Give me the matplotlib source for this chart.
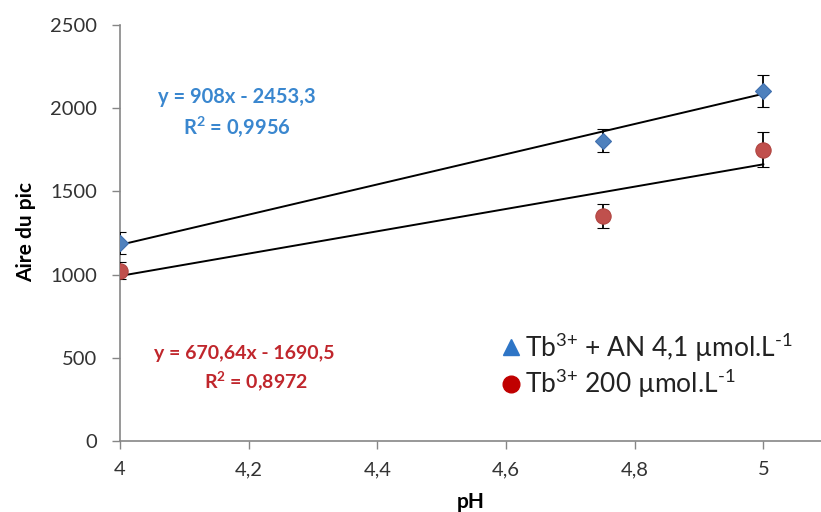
import matplotlib
matplotlib.use("Agg")
import matplotlib.pyplot as plt
import numpy as np
from matplotlib.lines import Line2D

plt.rcParams['font.family'] = ['Lato', 'DejaVu Sans']
plt.rcParams['mathtext.fontset'] = 'custom'
plt.rcParams['mathtext.rm'] = 'Lato'
plt.rcParams['mathtext.bf'] = 'Lato:bold'

# Data
ph = [4.0, 4.75, 5.0]
aire_an = [1190, 1805, 2105]
err_an = [66, 70, 97]
aire_tb = [1023, 1352, 1749]
err_tb = [50, 74, 105]

# Trendline coefficients (from the chart equations)
slope_an, intercept_an = 908.0, -2453.3
slope_tb, intercept_tb = 670.64, -1690.5

xticks = [4.0, 4.2, 4.4, 4.6, 4.8, 5.0]
xtick_labels = ["4", "4,2", "4,4", "4,6", "4,8", "5"]
yticks = [0, 500, 1000, 1500, 2000, 2500]

fig = plt.figure(figsize=(8.21, 5.12), dpi=100)
ax = fig.add_axes([120/821, 1-441/512, 772/821, 416/512])

axis_col = '#868686'
blue_pt = '#4f81bd'
red_pt = '#c0504d'

xl = np.array([min(ph), max(ph)])
ax.plot(xl, slope_an*xl + intercept_an, color='black', lw=1.4, zorder=2)
ax.plot(xl, slope_tb*xl + intercept_tb, color='black', lw=1.4, zorder=2)

ax.errorbar(ph, aire_an, yerr=err_an, fmt='D', color=blue_pt, ms=8.5,
            mec='#3f6fae', mew=0.8, ecolor='black', elinewidth=1.3, capsize=4.5,
            capthick=1.3, zorder=3)
ax.errorbar(ph, aire_tb, yerr=err_tb, fmt='o', color=red_pt, ms=11,
            mec='#b04440', mew=0.8, ecolor='black', elinewidth=1.3, capsize=4.5,
            capthick=1.3, zorder=3)

ax.set_xlim(4.0, 5.2)
ax.set_ylim(0, 2500)
ax.set_xticks(xticks)
ax.set_xticklabels(xtick_labels)
ax.set_yticks(yticks)
ax.tick_params(axis='both', labelsize=14.5, color=axis_col, length=5.5,
               width=1, labelcolor='#333333')
ax.tick_params(axis='x', pad=9)
ax.tick_params(axis='y', pad=11)
for s in ['top', 'right']:
    ax.spines[s].set_visible(False)
for s in ['left', 'bottom']:
    ax.spines[s].set_color(axis_col)
    ax.spines[s].set_linewidth(1.2)

fig.text(26/821, 1-232/512, 'Aire du pic', rotation=90, ha='center', va='center',
         fontsize=15, fontweight='bold', color='black')
fig.text(471/821, 1-502/512, 'pH', ha='center', va='center',
         fontsize=15, fontweight='bold', color='black')

blue_txt = '#3a87cf'
red_txt = '#c0262c'
fig.text(237/821, 1-97/512, 'y = 908x - 2453,3', ha='center', va='center',
         fontsize=14.5, fontweight='bold', color=blue_txt)
fig.text(237/821, 1-127/512, r'R$^\mathbf{2}$ = 0,9956', ha='center', va='center',
         fontsize=14.5, fontweight='bold', color=blue_txt)
fig.text(244/821, 1-354/512, 'y = 670,64x - 1690,5', ha='center', va='center',
         fontsize=14, fontweight='bold', color=red_txt)
fig.text(256/821, 1-382/512, r'R$^\mathbf{2}$ = 0,8972', ha='center', va='center',
         fontsize=14, fontweight='bold', color=red_txt)

handles = [
    Line2D([], [], marker='^', color='#2e75c6', ls='none', ms=12),
    Line2D([], [], marker='o', color='#c00000', ls='none', ms=12),
]
labels = [r'Tb$^{3{+}}$ + AN 4,1 µmol.L$^{\text{-}1}$', r'Tb$^{3{+}}$ 200 µmol.L$^{\text{-}1}$']
fig.legend(handles, labels, loc='center left', bbox_to_anchor=(487/821, 1-365/512),
           frameon=False, fontsize=19, handletextpad=0.05, labelspacing=0.1,
           handlelength=1.0, borderaxespad=0, labelcolor='#222222')

fig.savefig('out.png', dpi=100)
